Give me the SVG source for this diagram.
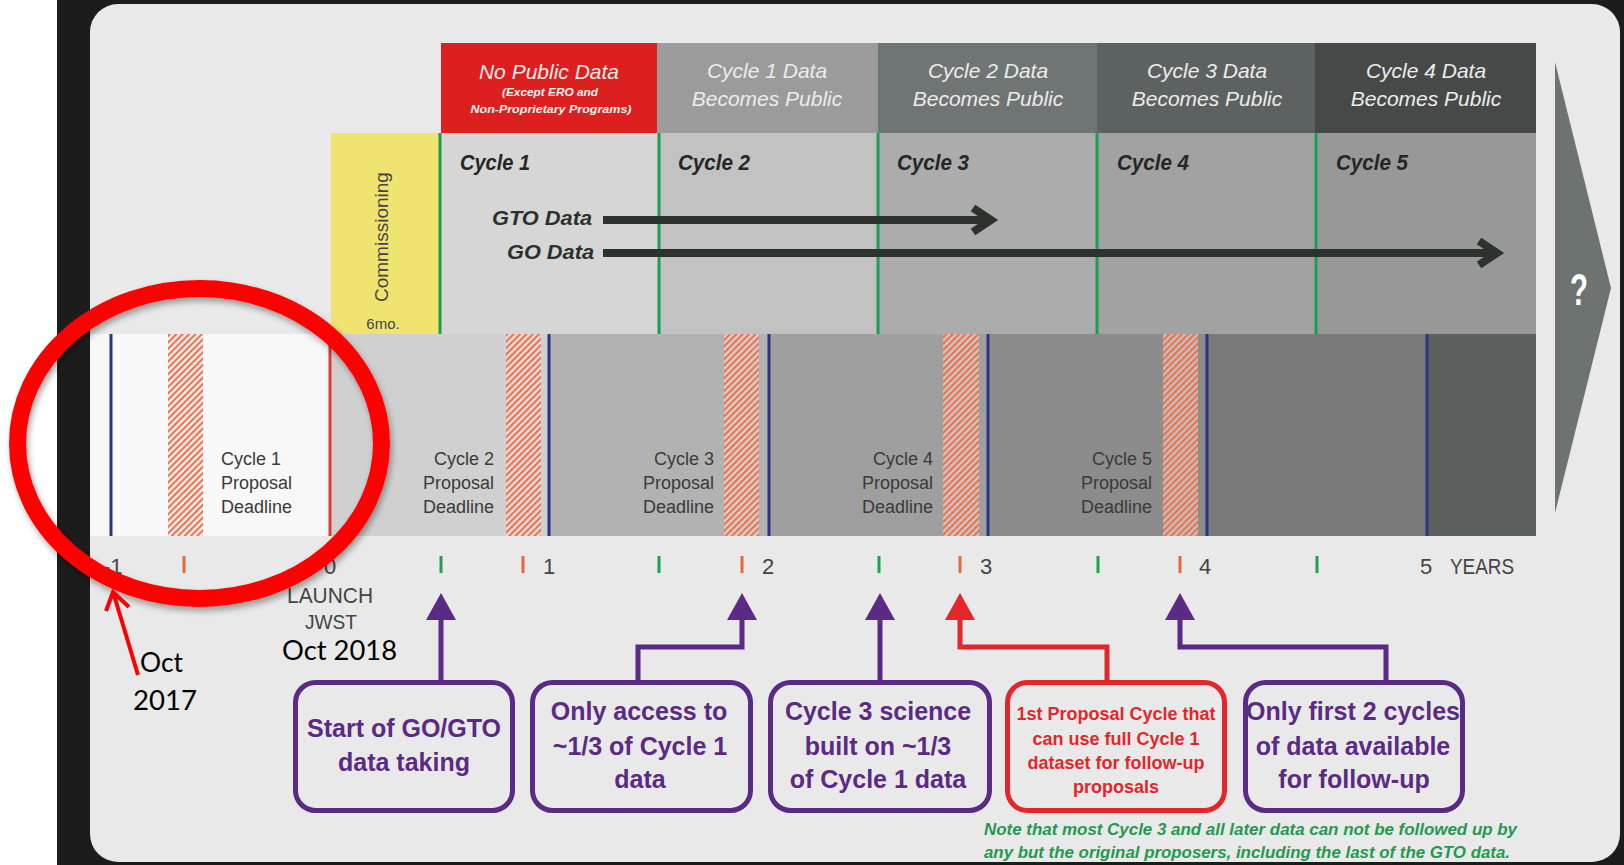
<svg xmlns="http://www.w3.org/2000/svg" width="1624" height="865" viewBox="0 0 1624 865">
<style>
.hd{font-family:"Liberation Sans",Arial,sans-serif;font-style:italic;fill:#ececec;font-size:21px;text-anchor:middle}
.hs{font-family:"Liberation Sans",Arial,sans-serif;font-style:italic;font-weight:bold;fill:#f4f4f4;font-size:11px;text-anchor:middle}
.cy{font-family:"Liberation Sans",Arial,sans-serif;font-style:italic;font-weight:bold;fill:#262626;font-size:22px}
.dt{font-family:"Liberation Sans",Arial,sans-serif;font-style:italic;font-weight:bold;fill:#2c302d;font-size:20px;text-anchor:end}
.pp{font-family:"Liberation Sans",Arial,sans-serif;fill:#3a3a3a;font-size:18px}
.ax{font-family:"Liberation Sans",Arial,sans-serif;fill:#444;font-size:22px}
.bx{fill:none;stroke:#5a2a85;stroke-width:5}
.bt{font-family:"Liberation Sans",Arial,sans-serif;font-weight:bold;fill:#5a2a85;font-size:25px;text-anchor:middle}
.rt{font-family:"Liberation Sans",Arial,sans-serif;font-weight:bold;fill:#e3262a;font-size:18px;text-anchor:middle}
.an{font-family:Lato,"Liberation Sans",sans-serif;fill:#000;font-size:27px}
.gl{stroke:#1a9e50;stroke-width:3}
.bl{stroke:#2b3585;stroke-width:3}
.tg{stroke:#1aa24f;stroke-width:3}
.to{stroke:#e8663a;stroke-width:3}
.hatch{fill:url(#hatch)}
</style>
<defs>
<pattern id="hatch" patternUnits="userSpaceOnUse" width="4.5" height="4.5" patternTransform="rotate(45)">
<rect width="4.5" height="4.5" fill="#f9e2da" fill-opacity="0.55"/>
<rect width="2" height="4.5" fill="#e9714e"/>
</pattern>
<marker id="ap" markerUnits="userSpaceOnUse" markerWidth="28" markerHeight="30" refX="0" refY="15" orient="auto" viewBox="0 0 28 30">
<path d="M0,0 L27,15 L0,30 Z" fill="#5a2a85"/>
</marker>
<marker id="ar" markerUnits="userSpaceOnUse" markerWidth="28" markerHeight="30" refX="0" refY="15" orient="auto" viewBox="0 0 28 30">
<path d="M0,0 L27,15 L0,30 Z" fill="#e3262a"/>
</marker>
<filter id="sh" x="-10%" y="-10%" width="120%" height="125%">
<feDropShadow dx="2" dy="4" stdDeviation="3" flood-color="#000" flood-opacity="0.35"/>
</filter>
</defs>

<!-- background frame -->
<rect x="0" y="0" width="1624" height="865" fill="#1c1c1c"/>
<rect x="0" y="0" width="57" height="865" fill="#ffffff"/>
<rect x="90" y="4" width="1530" height="858" rx="28" fill="#e9e9e9"/>

<!-- header row -->
<g id="header">
<rect x="441" y="43" width="216" height="90" fill="#dc2020"/>
<text class="hd" x="549" y="79">No Public Data</text>
<text class="hs" x="550" y="96" textLength="96" lengthAdjust="spacingAndGlyphs">(Except ERO and</text>
<text class="hs" x="551" y="113" textLength="161" lengthAdjust="spacingAndGlyphs">Non-Proprietary Programs)</text>
<rect x="657" y="43" width="221" height="90" fill="#9b9b9b"/>
<text class="hd" x="767" y="78">Cycle 1 Data</text>
<text class="hd" x="767" y="106">Becomes Public</text>
<rect x="878" y="43" width="219" height="90" fill="#6f7574"/>
<text class="hd" x="988" y="78">Cycle 2 Data</text>
<text class="hd" x="988" y="106">Becomes Public</text>
<rect x="1097" y="43" width="218" height="90" fill="#5c6261"/>
<text class="hd" x="1207" y="78">Cycle 3 Data</text>
<text class="hd" x="1207" y="106">Becomes Public</text>
<rect x="1315" y="43" width="221" height="90" fill="#454a49"/>
<text class="hd" x="1426" y="78">Cycle 4 Data</text>
<text class="hd" x="1426" y="106">Becomes Public</text>
</g>

<!-- cycle row -->
<g id="commissioning">
<rect x="331" y="133" width="109" height="201" fill="#efe46f"/>
<text class="pp" transform="translate(388,302) rotate(-90)" style="font-size:19px;fill:#444">Commissioning</text>
<text class="pp" x="383" y="329" style="font-size:15px;fill:#444;text-anchor:middle">6mo.</text>
</g>
<g id="cycles">
<rect x="440" y="133" width="219" height="201" fill="#d6d6d6"/>
<rect x="659" y="133" width="219" height="201" fill="#c2c2c2"/>
<rect x="878" y="133" width="219" height="201" fill="#acacac"/>
<rect x="1097" y="133" width="219" height="201" fill="#a2a2a2"/>
<rect x="1316" y="133" width="220" height="201" fill="#989898"/>
<text class="cy" x="460" y="170" textLength="70" lengthAdjust="spacingAndGlyphs">Cycle 1</text>
<text class="cy" x="678" y="170" textLength="72" lengthAdjust="spacingAndGlyphs">Cycle 2</text>
<text class="cy" x="897" y="170" textLength="72" lengthAdjust="spacingAndGlyphs">Cycle 3</text>
<text class="cy" x="1117" y="170" textLength="72" lengthAdjust="spacingAndGlyphs">Cycle 4</text>
<text class="cy" x="1336" y="170" textLength="72" lengthAdjust="spacingAndGlyphs">Cycle 5</text>
<line class="gl" x1="440" y1="133" x2="440" y2="334"/>
<line class="gl" x1="659" y1="133" x2="659" y2="334"/>
<line class="gl" x1="878" y1="133" x2="878" y2="334"/>
<line class="gl" x1="1097" y1="133" x2="1097" y2="334"/>
<line class="gl" x1="1316" y1="133" x2="1316" y2="334"/>
</g>

<!-- data arrows -->
<g id="data-arrows">
<text class="dt" x="592" y="225" textLength="100" lengthAdjust="spacingAndGlyphs">GTO Data</text>
<text class="dt" x="594" y="259" textLength="87" lengthAdjust="spacingAndGlyphs">GO Data</text>
<path d="M603,220 H988 M973,208 L991,220 L973,232" fill="none" stroke="#2d322f" stroke-width="8"/>
<path d="M603,253 H1494 M1479,241 L1497,253 L1479,265" fill="none" stroke="#2d322f" stroke-width="8"/>
</g>

<!-- proposal row -->
<g id="proposals">
<rect x="90" y="334" width="240" height="202" fill="#f8f8f8"/>
<rect x="330" y="334" width="219" height="202" fill="#d0d0d0"/>
<rect x="549" y="334" width="220" height="202" fill="#b2b2b2"/>
<rect x="769" y="334" width="219" height="202" fill="#9f9f9f"/>
<rect x="988" y="334" width="219" height="202" fill="#8c8c8c"/>
<rect x="1207" y="334" width="220" height="202" fill="#7a7a7a"/>
<rect x="1427" y="334" width="109" height="202" fill="#5b605f"/>
<rect class="hatch" x="168" y="334" width="35" height="202"/>
<rect class="hatch" x="506" y="334" width="35" height="202"/>
<rect class="hatch" x="724" y="334" width="35" height="202"/>
<rect class="hatch" x="943" y="334" width="36" height="202"/>
<rect class="hatch" x="1163" y="334" width="35" height="202"/>
<line class="bl" x1="111" y1="334" x2="111" y2="536"/>
<line class="bl" x1="549" y1="334" x2="549" y2="536"/>
<line class="bl" x1="769" y1="334" x2="769" y2="536"/>
<line class="bl" x1="988" y1="334" x2="988" y2="536"/>
<line class="bl" x1="1207" y1="334" x2="1207" y2="536"/>
<line class="bl" x1="1427" y1="334" x2="1427" y2="536"/>
<line x1="330" y1="334" x2="330" y2="536" stroke="#e03a3a" stroke-width="3"/>
<text class="pp" x="221" y="465">Cycle 1</text>
<text class="pp" x="221" y="489">Proposal</text>
<text class="pp" x="221" y="513">Deadline</text>
<g style="text-anchor:end">
<text class="pp" x="494" y="465">Cycle 2</text>
<text class="pp" x="494" y="489">Proposal</text>
<text class="pp" x="494" y="513">Deadline</text>
<text class="pp" x="714" y="465">Cycle 3</text>
<text class="pp" x="714" y="489">Proposal</text>
<text class="pp" x="714" y="513">Deadline</text>
<text class="pp" x="933" y="465">Cycle 4</text>
<text class="pp" x="933" y="489">Proposal</text>
<text class="pp" x="933" y="513">Deadline</text>
<text class="pp" x="1152" y="465">Cycle 5</text>
<text class="pp" x="1152" y="489">Proposal</text>
<text class="pp" x="1152" y="513">Deadline</text>
</g>
</g>

<!-- future chevron -->
<g id="future">
<polygon points="1555,62 1611,288 1555,513" fill="#6d7371"/>
<text x="1579" y="305" style="font-family:'Liberation Sans',Arial,sans-serif;font-weight:bold;font-size:44px;fill:#fff;text-anchor:middle" textLength="18" lengthAdjust="spacingAndGlyphs">?</text>
</g>

<!-- axis -->
<g id="axis">
<line class="to" x1="184" y1="556" x2="184" y2="573"/>
<line class="to" x1="523" y1="556" x2="523" y2="573"/>
<line class="to" x1="742" y1="556" x2="742" y2="573"/>
<line class="to" x1="960" y1="556" x2="960" y2="573"/>
<line class="to" x1="1180" y1="556" x2="1180" y2="573"/>
<line class="tg" x1="441" y1="556" x2="441" y2="573"/>
<line class="tg" x1="659" y1="556" x2="659" y2="573"/>
<line class="tg" x1="879" y1="556" x2="879" y2="573"/>
<line class="tg" x1="1098" y1="556" x2="1098" y2="573"/>
<line class="tg" x1="1317" y1="556" x2="1317" y2="573"/>
<text class="ax" x="103" y="574">-1</text>
<text class="ax" x="324" y="574">0</text>
<text class="ax" x="543" y="574">1</text>
<text class="ax" x="762" y="574">2</text>
<text class="ax" x="980" y="574">3</text>
<text class="ax" x="1199" y="574">4</text>
<text class="ax" x="1420" y="574">5</text>
<text class="ax" x="1450" y="574" textLength="64" lengthAdjust="spacingAndGlyphs">YEARS</text>
<text class="ax" x="330" y="603" text-anchor="middle" textLength="86" lengthAdjust="spacingAndGlyphs">LAUNCH</text>
<text class="ax" x="331" y="629" text-anchor="middle" textLength="52" lengthAdjust="spacingAndGlyphs" style="font-size:20px">JWST</text>
</g>

<!-- connectors -->
<g id="connectors" fill="none" stroke-width="5">
<path d="M441,682 V620" stroke="#5a2a85" marker-end="url(#ap)"/>
<path d="M638,682 V647 H742 V620" stroke="#5a2a85" marker-end="url(#ap)"/>
<path d="M880,682 V620" stroke="#5a2a85" marker-end="url(#ap)"/>
<path d="M1107,682 V647 H960 V620" stroke="#e3262a" marker-end="url(#ar)"/>
<path d="M1386,682 V647 H1180 V620" stroke="#5a2a85" marker-end="url(#ap)"/>
</g>

<!-- boxes -->
<g id="box-start">
<rect class="bx" x="295.5" y="682.5" width="217" height="128" rx="20"/>
<text class="bt" x="404" y="737">Start of GO/GTO</text>
<text class="bt" x="404" y="771">data taking</text>
</g>
<g id="box-access">
<rect class="bx" x="532.5" y="682.5" width="218" height="128" rx="20"/>
<text class="bt" x="639" y="720">Only access to</text>
<text class="bt" x="640" y="755">~1/3 of Cycle 1</text>
<text class="bt" x="640" y="788">data</text>
</g>
<g id="box-cycle3">
<rect class="bx" x="770.5" y="682.5" width="219" height="128" rx="20"/>
<text class="bt" x="878" y="720">Cycle 3 science</text>
<text class="bt" x="878" y="755">built on ~1/3</text>
<text class="bt" x="878" y="788">of Cycle 1 data</text>
</g>
<g id="box-first">
<rect x="1007.5" y="682.5" width="217" height="128" rx="20" fill="none" stroke="#e3262a" stroke-width="5"/>
<text class="rt" x="1116" y="720">1st Proposal Cycle that</text>
<text class="rt" x="1116" y="745">can use full Cycle 1</text>
<text class="rt" x="1116" y="769">dataset for follow-up</text>
<text class="rt" x="1116" y="793">proposals</text>
</g>
<g id="box-only2">
<rect class="bx" x="1245.5" y="682.5" width="217" height="128" rx="20"/>
<text class="bt" x="1353" y="720">Only first 2 cycles</text>
<text class="bt" x="1353" y="755">of data available</text>
<text class="bt" x="1354" y="788">for follow-up</text>
</g>

<g id="note">
<text x="984" y="835" textLength="533" lengthAdjust="spacingAndGlyphs" style="font-family:'Liberation Sans',Arial,sans-serif;font-style:italic;font-weight:bold;font-size:16px;fill:#1f9a4f">Note that most Cycle 3 and all later data can not be followed up by</text>
<text x="984" y="858" textLength="526" lengthAdjust="spacingAndGlyphs" style="font-family:'Liberation Sans',Arial,sans-serif;font-style:italic;font-weight:bold;font-size:16px;fill:#1f9a4f">any but the original proposers, including the last of the GTO data.</text>
</g>

<!-- annotation -->
<g id="annotation">
<ellipse cx="199.5" cy="443.5" rx="182" ry="155" fill="none" stroke="#ff0000" stroke-width="17" filter="url(#sh)"/>
<path d="M138,675 L114,595 M106,611 L113,592 L129,607" fill="none" stroke="#ff0000" stroke-width="4"/>
<text class="an" x="140" y="672" textLength="43" lengthAdjust="spacingAndGlyphs">Oct</text>
<text class="an" x="133" y="710" textLength="64" lengthAdjust="spacingAndGlyphs">2017</text>
<text class="an" x="282" y="660" textLength="115" lengthAdjust="spacingAndGlyphs" style="font-size:26px">Oct 2018</text>
</g>
</svg>
